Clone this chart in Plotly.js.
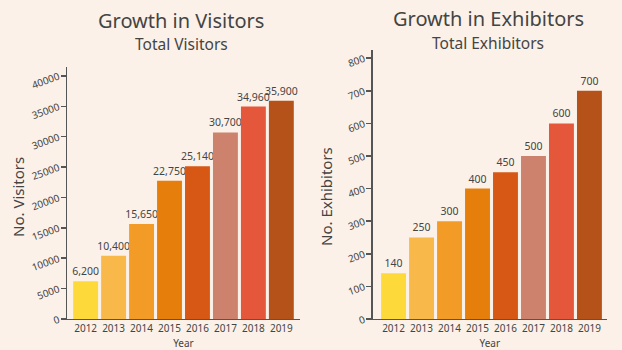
<!DOCTYPE html>
<html>
<head>
<meta charset="utf-8">
<script src="https://cdn.plot.ly/plotly-3.0.1.min.js"></script>
<style>html,body{margin:0;padding:0;background:#fcf1e8;}#chart{width:622px;height:350px;}</style>
</head>
<body>
<div id="chart"></div>
<script>
const years = ['2012','2013','2014','2015','2016','2017','2018','2019'];
const visitors = [6200, 10400, 15650, 22750, 25140, 30700, 34960, 35900];
const exhibitors = [140, 250, 300, 400, 450, 500, 600, 700];
const barColors = ['#FDDA3A','#F8B84A','#F29B26','#E57E0A','#D75714','#CC826C','#E5573A','#B4521A'];

const FONT = 'Noto Sans, Open Sans, sans-serif';
const TXT = '#444444';

const traces = [
  {type:'bar', x:years, y:visitors, xaxis:'x', yaxis:'y',
   marker:{color:barColors}, texttemplate:'%{y:,}', textposition:'outside', constraintext:'none',
   textfont:{size:10.5, color:TXT}, cliponaxis:false, hoverinfo:'skip'},
  {type:'bar', x:years, y:exhibitors, xaxis:'x2', yaxis:'y2',
   marker:{color:barColors}, texttemplate:'%{y:,}', textposition:'outside', constraintext:'none',
   textfont:{size:10.5, color:TXT}, cliponaxis:false, hoverinfo:'skip'}
];

const xcommon = {type:'category', showline:true, linecolor:'#555', linewidth:1.5,
  ticks:'', tickfont:{size:10, color:TXT}, showgrid:false, zeroline:false,
  title:{text:'Year', font:{size:10, color:TXT}, standoff:5}};
const ycommon = {showline:true, linecolor:'#555', linewidth:1.5, ticks:'outside',
  ticklen:5, tickcolor:'#555', tickwidth:1.5, tickangle:-20, tickfont:{size:10, color:TXT},
  showgrid:false, zeroline:false, tickformat:'d'};

const layout = {
  width:622, height:350, paper_bgcolor:'#fcf1e8', plot_bgcolor:'#fcf1e8',
  font:{family:FONT, color:TXT},
  margin:{l:0,r:0,t:0,b:0}, showlegend:false, bargap:0.11,
  xaxis:Object.assign({}, xcommon, {domain:[0.108,0.482], range:[-0.66,7.66], anchor:'y'}),
  yaxis:Object.assign({}, ycommon, {domain:[0.0886,0.809], range:[0,41500], dtick:5000, anchor:'x'}),
  xaxis2:Object.assign({}, xcommon, {domain:[0.599,0.976], range:[-0.75,7.63], anchor:'y2'}),
  yaxis2:Object.assign({}, ycommon, {domain:[0.0886,0.857], range:[0,825], dtick:100, anchor:'x2'}),
  annotations:[
    {text:'Growth in Visitors', x:181, y:20, showarrow:false, font:{size:20, color:TXT}},
    {text:'Total Visitors', x:181, y:44, showarrow:false, font:{size:15.5, color:TXT}},
    {text:'Growth in Exhibitors', x:488, y:19, showarrow:false, font:{size:20, color:TXT}},
    {text:'Total Exhibitors', x:488, y:43, showarrow:false, font:{size:15.5, color:TXT}},
    {text:'No. Visitors', x:18, y:197, textangle:-90, showarrow:false, font:{size:15, color:TXT}},
    {text:'No. Exhibitors', x:326, y:197, textangle:-90, showarrow:false, font:{size:15, color:TXT}}
  ].map(a => Object.assign(a, {xref:'paper', yref:'paper', x:a.x/622, y:1-a.y/350, xanchor:'center', yanchor:'middle'}))
};

Plotly.newPlot('chart', traces, layout, {staticPlot:true, displayModeBar:false});
</script>
</body>
</html>
